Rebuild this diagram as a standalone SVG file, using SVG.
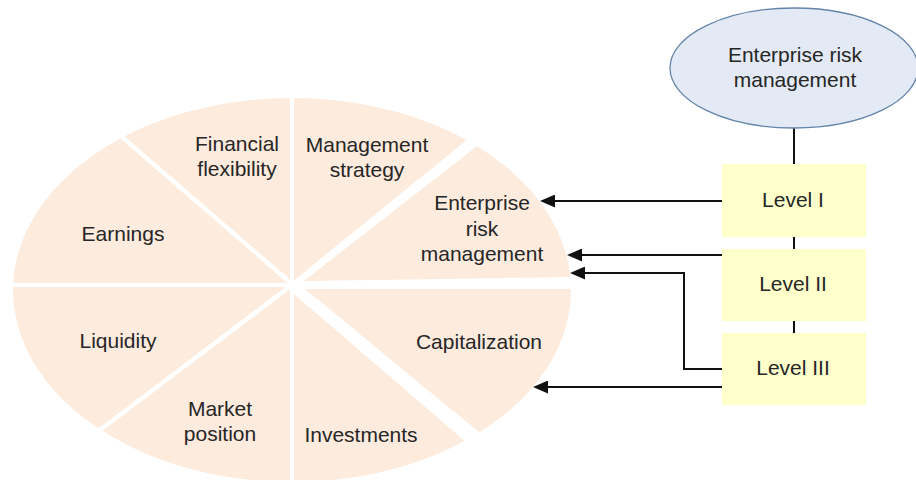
<svg xmlns="http://www.w3.org/2000/svg" width="916" height="480" viewBox="0 0 916 480">
  <style>
    .sector { fill: #FDEBDD; }
    .label { font-family: "Liberation Sans", Arial, sans-serif; font-size: 21px; fill: #262626; text-anchor: middle; }
    .level { fill: #FFFFCC; }
    .link { fill: none; stroke: #111; stroke-width: 2; }
    .arrow { fill: none; stroke: #111; stroke-width: 2; marker-end: url(#head); }
  </style>
  <defs>
    <clipPath id="pie">
      <ellipse cx="292" cy="290" rx="279" ry="192"/>
    </clipPath>
    <marker id="head" markerUnits="userSpaceOnUse" markerWidth="15" markerHeight="13" refX="4" refY="6.5" orient="auto">
      <path d="M0,0 L15,6.5 L0,13 z" fill="#111"/>
    </marker>
  </defs>

  <rect width="916" height="480" fill="#ffffff"/>

  <!-- pie of eight rating factors, each wedge clipped to the ellipse -->
  <g clip-path="url(#pie)">
    <g id="management-strategy">
      <path class="sector" d="M294,280.4 L294,40 L590,40 Z"/>
    </g>
    <g id="erm-sector">
      <path class="sector" d="M303.9,280.9 L613.5,40 L620,40 L620,276.3 Z"/>
    </g>
    <g id="capitalization">
      <path class="sector" d="M305,289 L620,289 L620,520 L585.7,520 Z"/>
    </g>
    <g id="investments">
      <path class="sector" d="M294,294.1 L556.6,520 L294,520 Z"/>
    </g>
    <g id="market-position">
      <path class="sector" d="M290,289.3 L290,520 L-15.5,520 Z"/>
    </g>
    <g id="liquidity">
      <path class="sector" d="M285.6,287 L-10,287 L-10,510.2 Z"/>
    </g>
    <g id="earnings">
      <path class="sector" d="M287.4,283 L-10,283 L-10,25.8 Z"/>
    </g>
    <g id="financial-flexibility">
      <path class="sector" d="M290,279.3 L13.4,40 L290,40 Z"/>
    </g>
  </g>

  <!-- wedge labels -->
  <g id="labels-pie">
    <text class="label" x="237" y="151">Financial</text>
    <text class="label" x="237" y="176">flexibility</text>
    <text class="label" x="367" y="152">Management</text>
    <text class="label" x="367" y="177">strategy</text>
    <text class="label" x="482" y="210">Enterprise</text>
    <text class="label" x="482" y="236">risk</text>
    <text class="label" x="482" y="261">management</text>
    <text class="label" x="123" y="241">Earnings</text>
    <text class="label" x="118" y="348">Liquidity</text>
    <text class="label" x="479" y="349">Capitalization</text>
    <text class="label" x="220" y="416">Market</text>
    <text class="label" x="220" y="441">position</text>
    <text class="label" x="361" y="442">Investments</text>
  </g>

  <!-- connectors -->
  <g id="connectors">
    <line class="link" x1="794" y1="128" x2="794" y2="164"/>
    <line class="link" x1="794" y1="237" x2="794" y2="249"/>
    <line class="link" x1="794" y1="321" x2="794" y2="333"/>
    <path class="arrow" d="M722,201 L551,201"/>
    <path class="arrow" d="M722,255 L578,255"/>
    <path class="arrow" d="M722,369 L684,369 L684,273 L581,273"/>
    <path class="arrow" d="M722,387 L544,387"/>
  </g>

  <g id="erm-root">
    <ellipse cx="794" cy="68" rx="124" ry="60" fill="#E3EAF5" stroke="#6485AA" stroke-width="1.3"/>
    <text class="label" x="795" y="62">Enterprise risk</text>
    <text class="label" x="795" y="87">management</text>
  </g>

  <g id="level-1">
    <rect class="level" x="722" y="164" width="144" height="73"/>
    <text class="label" x="793" y="207">Level I</text>
  </g>
  <g id="level-2">
    <rect class="level" x="722" y="249" width="144" height="72"/>
    <text class="label" x="793" y="291">Level II</text>
  </g>
  <g id="level-3">
    <rect class="level" x="722" y="333" width="144" height="72"/>
    <text class="label" x="793" y="375">Level III</text>
  </g>
</svg>
